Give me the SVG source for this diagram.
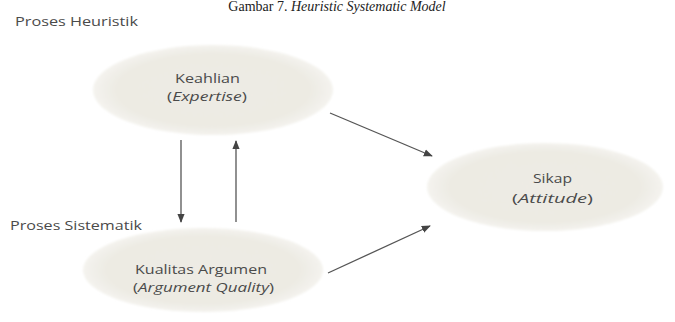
<svg xmlns="http://www.w3.org/2000/svg" width="675" height="322" viewBox="0 0 675 322">
  <style>
    .lbl { font-family: "Open Sans", "Liberation Sans", sans-serif; font-size: 13px; fill: #4a4a4a; }
    .node-text { font-family: "Open Sans", "Liberation Sans", sans-serif; font-size: 12.5px; fill: #4a4a4a; }
    .title { font-family: "Liberation Serif", serif; font-size: 14px; fill: #222; text-anchor: middle; }
    .blob { fill: url(#blobFill); filter: url(#grain); }
    .edge { stroke: #555; stroke-width: 1.3; fill: none; marker-end: url(#head); }
  </style>
  <defs>
    <radialGradient id="blobFill" cx="50%" cy="50%" r="50%">
      <stop offset="0%" stop-color="#eeece5"/>
      <stop offset="80%" stop-color="#edebe3"/>
      <stop offset="100%" stop-color="#f6f5f1"/>
    </radialGradient>
    <filter id="grain" x="-10%" y="-20%" width="120%" height="140%">
      <feTurbulence type="fractalNoise" baseFrequency="0.9" numOctaves="2" seed="3" result="noise"/>
      <feColorMatrix in="noise" type="matrix" values="0 0 0 0 0.84  0 0 0 0 0.82  0 0 0 0 0.77  0 0 0 1 -0.35" result="speck"/>
      <feComposite in="speck" in2="SourceGraphic" operator="in" result="speckIn"/>
      <feMerge result="m">
        <feMergeNode in="SourceGraphic"/>
        <feMergeNode in="speckIn"/>
      </feMerge>
      <feGaussianBlur in="m" stdDeviation="1"/>
    </filter>
    <marker id="head" viewBox="0 0 10 10" refX="9" refY="5" markerWidth="7" markerHeight="7" orient="auto">
      <path d="M0,1 L10,5 L0,9 Z" fill="#444"/>
    </marker>
  </defs>

  <rect width="675" height="322" fill="#ffffff"/>

  <!-- figure caption -->
  <text class="title" x="337" y="11">Gambar 7. <tspan font-style="italic">Heuristic Systematic Model</tspan></text>

  <text class="lbl" x="15" y="26" textLength="123" lengthAdjust="spacingAndGlyphs">Proses Heuristik</text>
  <text class="lbl" x="10" y="230" textLength="132" lengthAdjust="spacingAndGlyphs">Proses Sistematik</text>

  <g id="keahlian">
    <ellipse class="blob" cx="213" cy="90" rx="120" ry="45"/>
    <text class="node-text" x="175" y="83" textLength="65" lengthAdjust="spacingAndGlyphs">Keahlian</text>
    <text class="node-text" x="167" y="101" textLength="80" lengthAdjust="spacingAndGlyphs">(<tspan font-style="italic">Expertise</tspan>)</text>
  </g>

  <g id="sikap">
    <ellipse class="blob" cx="545" cy="187" rx="118" ry="44"/>
    <text class="node-text" x="533" y="183" textLength="39" lengthAdjust="spacingAndGlyphs">Sikap</text>
    <text class="node-text" x="512" y="203" textLength="81" lengthAdjust="spacingAndGlyphs">(<tspan font-style="italic">Attitude</tspan>)</text>
  </g>

  <g id="kualitas">
    <ellipse class="blob" cx="203" cy="270" rx="120" ry="42"/>
    <text class="node-text" x="135" y="274" textLength="132" lengthAdjust="spacingAndGlyphs">Kualitas Argumen</text>
    <text class="node-text" x="133" y="292" textLength="141" lengthAdjust="spacingAndGlyphs">(<tspan font-style="italic">Argument Quality</tspan>)</text>
  </g>

  <g id="connectors">
    <line class="edge" x1="181" y1="140" x2="181" y2="222"/>
    <line class="edge" x1="236" y1="222" x2="236" y2="141"/>
    <line class="edge" x1="330" y1="113" x2="432" y2="156"/>
    <line class="edge" x1="328" y1="273" x2="430" y2="226"/>
  </g>
</svg>
